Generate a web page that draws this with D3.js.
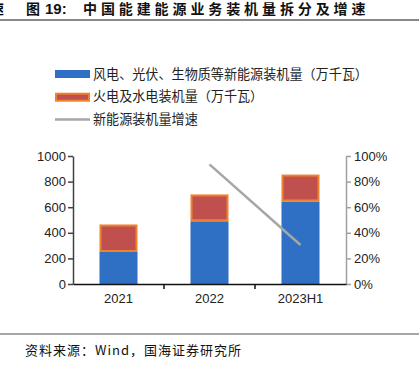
<!DOCTYPE html>
<html>
<head>
<meta charset="utf-8">
<script src="https://cdn.jsdelivr.net/npm/d3@7"></script>
<style>
  body { margin: 0; background: #fff; }
  svg { display: block; font-family: Arial, "Liberation Sans", "Noto Sans CJK SC", sans-serif; }
</style>
</head>
<body>
<svg id="chart" width="419" height="372"></svg>
<script>
'use strict';
var categories = ['2021', '2022', '2023H1'];
var newEnergy = [250, 490, 645];      // 风电、光伏、生物质等新能源装机量（万千瓦）
var thermalHydro = [215, 210, 210];   // 火电及水电装机量（万千瓦）
var growth = [null, 0.935, 0.305];    // 新能源装机量增速
var leftTicks = [0, 200, 400, 600, 800, 1000];
var rightTicks = [0, 0.2, 0.4, 0.6, 0.8, 1.0];
var seriesNames = ['风电、光伏、生物质等新能源装机量（万千瓦）', '火电及水电装机量（万千瓦）', '新能源装机量增速'];

var svg = d3.select('#chart');
var cjk = '"Noto Sans CJK SC", sans-serif';

var margin = {top: 156, left: 73, right: 73, bottom: 88};
var width = 419 - margin.left - margin.right;
var height = 372 - margin.top - margin.bottom;

// title + rules
svg.append('text').attr('x', -10).attr('y', 14).attr('font-family', cjk)
  .attr('font-size', 14).attr('font-weight', 'bold').text('速');
var title = svg.append('text').attr('y', 14).attr('font-size', 14).attr('font-weight', 'bold').attr('fill', '#111');
title.append('tspan').attr('x', 26).attr('font-family', cjk).text('图');
title.append('tspan').attr('x', 45).attr('font-family', 'Arial, "Liberation Sans", sans-serif').attr('font-size', 15).text('19:');
title.append('tspan').attr('x', 83).attr('font-family', cjk).attr('letter-spacing', 3.9)
  .text('中国能建能源业务装机量拆分及增速');
svg.append('line').attr('x1', 0).attr('x2', 419).attr('y1', 20).attr('y2', 20)
  .attr('stroke', '#888').attr('stroke-width', 2);
svg.append('line').attr('x1', 0).attr('x2', 419).attr('y1', 334).attr('y2', 334)
  .attr('stroke', '#888').attr('stroke-width', 1.5);
svg.append('text').attr('x', 25).attr('y', 355).attr('font-family', cjk)
  .attr('font-size', 13).attr('letter-spacing', 1).attr('fill', '#111').text('资料来源：Wind，国海证券研究所');

var g = svg.append('g').attr('transform', 'translate(' + margin.left + ',' + margin.top + ')');

var x = d3.scaleBand().domain(categories).range([0, width]).paddingInner(0).paddingOuter(0);
var y = d3.scaleLinear().domain([0, 1000]).range([height, 0]);
var y2 = d3.scaleLinear().domain([0, 1]).range([height, 0]);
var barW = 38;

var data = categories.map(function(c, i) {
  return {cat: c, a: newEnergy[i], b: thermalHydro[i], g: growth[i]};
});

// blue stack
g.selectAll('.bar-a').data(data).enter().append('rect')
  .attr('class', 'bar-a')
  .attr('x', function(d) { return x(d.cat) + (x.bandwidth() - barW) / 2; })
  .attr('y', function(d) { return y(d.a); })
  .attr('width', barW)
  .attr('height', function(d) { return height - y(d.a); })
  .attr('fill', '#2F6FC4');

// red stack with orange outline
g.selectAll('.bar-b').data(data).enter().append('rect')
  .attr('class', 'bar-b')
  .attr('x', function(d) { return x(d.cat) + (x.bandwidth() - barW) / 2 + 1; })
  .attr('y', function(d) { return y(d.a + d.b) + 1; })
  .attr('width', barW - 2)
  .attr('height', function(d) { return y(d.a) - y(d.a + d.b) - 2; })
  .attr('fill', '#C0504D')
  .attr('stroke', '#F0822E')
  .attr('stroke-width', 2);

// growth line
var line = d3.line()
  .defined(function(d) { return d.g !== null; })
  .x(function(d) { return x(d.cat) + x.bandwidth() / 2; })
  .y(function(d) { return y2(d.g); });
g.append('path').datum(data).attr('d', line)
  .attr('fill', 'none').attr('stroke', '#A6A6A6').attr('stroke-width', 2.5);

// left axis
var yAxis = g.append('g').call(d3.axisLeft(y).tickValues(leftTicks).tickFormat(d3.format('d')).tickSize(5).tickSizeOuter(0));
yAxis.select('.domain').attr('stroke', '#404040').attr('stroke-width', 1.5);
yAxis.selectAll('.tick line').attr('stroke', '#404040').attr('stroke-width', 1.5);
yAxis.selectAll('.tick text').attr('font-size', 13).attr('fill', '#222').attr('x', -7);

// right axis
var yAxis2 = g.append('g').attr('transform', 'translate(' + width + ',0)')
  .call(d3.axisRight(y2).tickValues(rightTicks).tickFormat(d3.format('.0%')).tickSize(5).tickSizeOuter(0));
yAxis2.select('.domain').attr('stroke', '#A0A0A0').attr('stroke-width', 1.5);
yAxis2.selectAll('.tick line').attr('stroke', '#A0A0A0').attr('stroke-width', 1.5);
yAxis2.selectAll('.tick text').attr('font-size', 13).attr('fill', '#222').attr('x', 8);

// bottom axis
var xAxis = g.append('g').attr('transform', 'translate(0,' + height + ')')
  .call(d3.axisBottom(x).tickSize(0).tickSizeOuter(0));
xAxis.select('.domain').attr('stroke', '#111').attr('stroke-width', 1.5);
xAxis.selectAll('.tick text').attr('font-size', 13).attr('fill', '#222').attr('dy', '1.2em');
g.append('g').selectAll('line').data(categories.slice(1)).enter().append('line')
  .attr('x1', function(d) { return x(d); }).attr('x2', function(d) { return x(d); })
  .attr('y1', height).attr('y2', height + 5)
  .attr('stroke', '#111').attr('stroke-width', 1.5);

// legend
var legend = svg.append('g').attr('transform', 'translate(55,74)');
var legendItems = [
  {name: seriesNames[0], type: 'blue'},
  {name: seriesNames[1], type: 'red'},
  {name: seriesNames[2], type: 'line'}
];
legendItems.forEach(function(item, i) {
  var row = legend.append('g').attr('transform', 'translate(0,' + (i * 22.7) + ')');
  if (item.type === 'blue') {
    row.append('rect').attr('x', 0).attr('y', -4).attr('width', 35).attr('height', 8).attr('fill', '#2F6FC4');
  } else if (item.type === 'red') {
    row.append('rect').attr('x', 1).attr('y', -3).attr('width', 33).attr('height', 7)
      .attr('fill', '#C0504D').attr('stroke', '#F0822E').attr('stroke-width', 2);
  } else {
    row.append('line').attr('x1', 0).attr('x2', 35).attr('y1', 0).attr('y2', 0)
      .attr('stroke', '#A6A6A6').attr('stroke-width', 2.5);
  }
  row.append('text').attr('x', 38).attr('y', 0).attr('dy', '0.36em')
    .attr('font-family', cjk).attr('font-size', 13.1).attr('fill', '#222').text(item.name);
});
</script>
</body>
</html>
